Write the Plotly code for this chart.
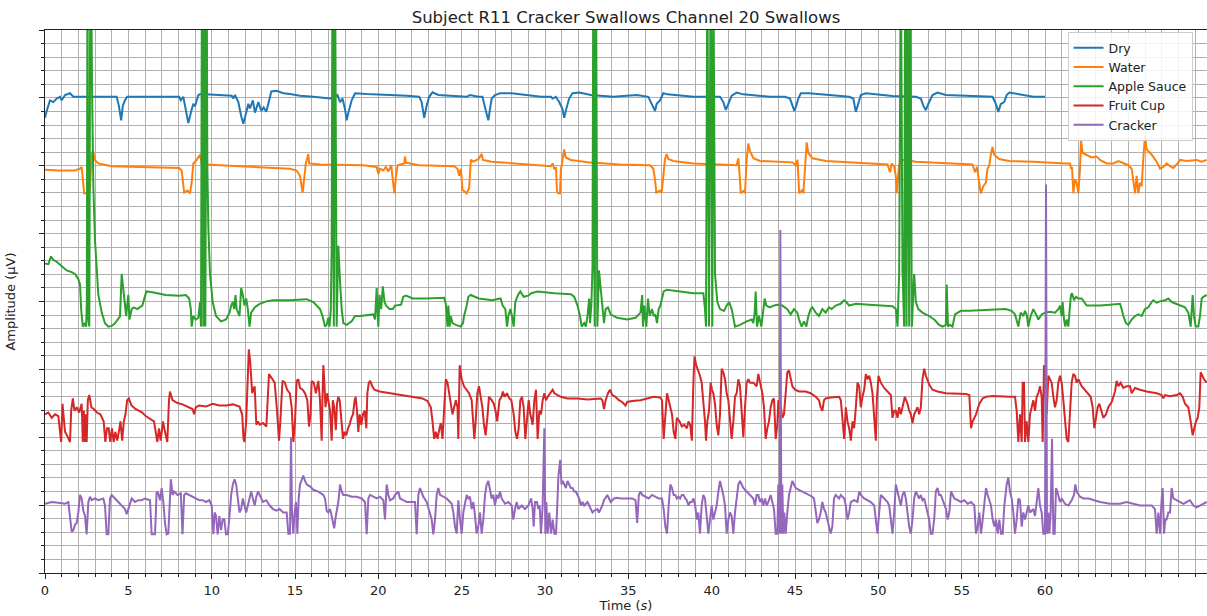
import plotly.graph_objects as go

# Swallow-channel traces (time in s, amplitude with per-condition offset)
dry = [
    (0, 33.53), (0.1, 34.04), (0.3, 34.82), (0.5, 34.69), (0.7, 34.95), (0.9, 35.08), (1.0, 34.82),
    (1.2, 35.21), (1.5, 35.34), (1.7, 35.08), (4.3, 35.08), (4.43, 34.43), (4.57, 33.35), (4.67, 34.43),
    (4.8, 34.82), (4.93, 35.08), (8.05, 35.08), (8.15, 34.82), (8.3, 35.08), (8.45, 34.17), (8.6, 33.14),
    (8.75, 33.91), (8.9, 34.56), (9.0, 34.38), (9.2, 35.21), (9.45, 35.34), (9.65, 35.26), (11.2, 35.16),
    (11.3, 34.95), (11.4, 35.21), (11.6, 34.69), (11.77, 33.66), (11.9, 33.09), (12.07, 33.91), (12.2, 34.56),
    (12.3, 34.22), (12.47, 34.82), (12.6, 33.91), (12.8, 34.69), (12.98, 34.04), (13.12, 34.30), (13.28, 33.97),
    (13.44, 34.69), (13.58, 35.47), (13.9, 35.52), (14.3, 35.34), (14.7, 35.28), (15.3, 35.16), (16.1, 35.08),
    (17.1, 34.95), (17.4, 35.08), (17.55, 35.21), (17.7, 34.69), (17.85, 34.95), (18.0, 34.17), (18.1, 33.35),
    (18.2, 33.91), (18.4, 34.82), (18.6, 35.34), (19.3, 35.28), (21.7, 35.16), (22.45, 35.08), (22.6, 34.69),
    (22.75, 33.53), (22.9, 34.43), (23.05, 35.08), (23.25, 35.41), (23.6, 35.21), (25.3, 35.08), (25.5, 35.21),
    (26.0, 35.08), (26.25, 35.08), (26.4, 34.30), (26.6, 33.35), (26.7, 34.17), (26.8, 34.95), (27.0, 35.21),
    (27.3, 35.34), (28.0, 35.34), (29.0, 35.21), (29.76, 35.08), (30.36, 35.08), (30.45, 34.95), (30.65, 35.08),
    (30.85, 34.69), (31.05, 34.17), (31.15, 33.53), (31.3, 34.30), (31.45, 34.95), (31.65, 35.34), (32.05, 35.39),
    (32.75, 35.21), (34.1, 35.08), (35.5, 35.21), (36.2, 35.08), (36.4, 34.56), (36.6, 34.04), (36.7, 34.56),
    (36.9, 34.82), (37.1, 35.34), (37.35, 35.26), (38.9, 35.08), (40.5, 35.08), (40.7, 34.69), (40.85, 34.12),
    (41.0, 34.56), (41.2, 35.16), (41.5, 35.39), (41.9, 35.26), (43.5, 35.08), (44.4, 35.08), (44.7, 34.95),
    (44.85, 34.48), (44.96, 34.04), (45.08, 34.43), (45.2, 34.95), (45.35, 35.34), (45.85, 35.34), (48.25, 35.08),
    (48.5, 34.95), (48.65, 33.97), (48.8, 34.56), (48.95, 35.21), (49.25, 35.34), (50.85, 35.13), (52.25, 35.08),
    (52.55, 34.95), (52.7, 34.43), (52.85, 34.09), (53.0, 34.56), (53.25, 35.21), (53.55, 35.39), (54.05, 35.21),
    (56.85, 35.08), (57.05, 34.56), (57.2, 33.97), (57.35, 34.56), (57.55, 34.69), (57.7, 35.21), (57.86, 35.39),
    (58.1, 35.34), (58.5, 35.21), (59.3, 35.08), (60.0, 35.08),
]

water = [
    (0, 29.70), (0.8, 29.65), (1.8, 29.65), (2.1, 29.78), (2.2, 29.91), (2.27, 28.75), (2.35, 27.97),
    (2.6, 28.02), (2.7, 28.36), (2.8, 30.81), (2.88, 31.12), (2.98, 30.43), (3.2, 30.17), (4.0, 29.96),
    (5.6, 29.91), (8.05, 29.83), (8.2, 29.65), (8.3, 28.75), (8.35, 28.02), (8.55, 28.18), (8.7, 27.97),
    (8.8, 28.75), (8.9, 30.17), (9.05, 30.35), (9.2, 30.68), (9.3, 30.81), (9.4, 30.17), (9.65, 30.09),
    (11.65, 29.96), (14.7, 29.78), (15.1, 29.65), (15.3, 29.26), (15.46, 28.02), (15.55, 29.00), (15.65, 30.17),
    (15.8, 30.86), (15.85, 30.17), (16.5, 30.09), (19.1, 30.04), (19.9, 29.91), (20.0, 29.39), (20.1, 29.78),
    (20.3, 29.65), (20.45, 29.91), (20.6, 29.57), (20.77, 30.04), (20.87, 28.75), (20.96, 27.97), (21.06, 29.26),
    (21.16, 30.04), (21.56, 30.17), (21.6, 30.68), (21.66, 30.22), (22.45, 30.04), (24.55, 29.96), (24.75, 29.78),
    (24.85, 29.26), (24.95, 29.78), (25.05, 28.23), (25.15, 28.10), (25.3, 27.97), (25.45, 28.36), (25.55, 30.43),
    (25.7, 30.30), (26.0, 30.48), (26.2, 30.86), (26.28, 30.43), (26.8, 30.30), (28.0, 30.17), (29.0, 30.09),
    (30.36, 29.96), (30.45, 30.17), (30.56, 29.78), (30.66, 29.83), (30.72, 28.10), (30.8, 27.97), (30.9, 27.97),
    (30.95, 29.65), (31.05, 30.50), (31.15, 31.20), (31.25, 30.61), (31.55, 30.43), (32.55, 30.25), (34.5, 30.09),
    (36.3, 30.04), (36.5, 29.78), (36.6, 29.00), (36.68, 28.02), (36.9, 28.18), (37.0, 28.02), (37.1, 29.26),
    (37.2, 30.50), (37.3, 30.86), (37.4, 30.50), (37.7, 30.35), (38.9, 30.17), (41.5, 30.04), (41.6, 30.55),
    (41.65, 29.78), (41.7, 28.49), (41.75, 27.97), (41.95, 28.18), (42.0, 27.97), (42.1, 30.43), (42.2, 31.64),
    (42.3, 31.07), (42.5, 30.55), (42.9, 30.35), (44.85, 30.25), (45.05, 30.04), (45.15, 30.43), (45.2, 29.26),
    (45.25, 27.97), (45.45, 28.23), (45.5, 27.97), (45.6, 29.78), (45.65, 30.81), (45.7, 31.72), (45.8, 30.94),
    (46.05, 30.55), (46.85, 30.35), (48.85, 30.22), (50.55, 30.09), (50.7, 29.52), (50.8, 30.17), (50.95, 29.91),
    (51.05, 29.26), (51.1, 27.97), (51.17, 29.26), (51.25, 30.04), (51.35, 30.43), (51.65, 30.43), (52.25, 30.30),
    (54.85, 30.17), (55.65, 30.09), (55.8, 29.52), (55.92, 29.91), (56.05, 28.75), (56.15, 27.97), (56.3, 28.49),
    (56.45, 28.75), (56.55, 29.78), (56.65, 29.99), (56.75, 30.81), (56.85, 31.38), (56.95, 30.81), (57.25, 30.50),
    (57.85, 30.35), (59.3, 30.30), (61.3, 30.17), (61.5, 30.17), (61.56, 29.78), (61.62, 29.91), (61.7, 27.97),
    (61.8, 29.00), (61.9, 28.75), (62.0, 27.97), (62.1, 29.78), (62.16, 31.85), (62.26, 30.94), (62.5, 30.81),
    (62.8, 30.61), (63.1, 30.68), (63.3, 30.43), (63.7, 30.17), (64.1, 30.17), (64.4, 30.35), (64.7, 30.17),
    (65.0, 30.04), (65.2, 29.78), (65.3, 29.00), (65.4, 27.97), (65.5, 29.26), (65.6, 27.97), (65.7, 28.75),
    (65.8, 28.49), (65.9, 30.55), (66.0, 32.23), (66.1, 31.20), (66.4, 30.81), (66.7, 30.30), (66.9, 29.78),
    (67.1, 29.91), (67.3, 30.17), (67.5, 29.96), (67.7, 29.83), (67.9, 30.09), (68.1, 30.43), (68.5, 30.35),
    (69.1, 30.43), (69.4, 30.30), (69.7, 30.43),
]

apple_sauce = [
    (0, 22.80), (0.2, 22.75), (0.36, 23.32), (0.5, 23.06), (0.7, 22.93), (1.0, 22.60), (1.3, 22.29),
    (1.6, 22.16), (1.8, 22.03), (2.0, 21.64), (2.1, 21.25), (2.17, 19.44), (2.27, 18.15), (2.4, 18.41),
    (2.47, 18.15), (2.51, 19.96), (2.55, 46.0), (2.6, 18.67), (2.66, 18.15), (2.72, 46.0), (2.76, 46.0),
    (2.82, 36.0), (2.9, 28.5), (3.0, 24.5), (3.1, 22.0), (3.2, 20.5), (3.4, 19.2), (3.6, 18.4), (3.8, 18.15),
    (4.0, 18.2), (4.2, 18.4), (4.4, 18.8), (4.5, 18.9), (4.6, 22.03), (4.65, 21.51), (4.8, 19.96), (4.87, 18.93),
    (4.93, 19.70), (5.0, 20.48), (5.07, 18.67), (5.2, 19.44), (5.33, 19.57), (5.53, 19.44), (5.84, 19.70),
    (6.0, 20.48), (6.08, 20.74), (6.44, 20.68), (7.24, 20.48), (8.05, 20.43), (8.45, 20.48), (8.65, 20.22),
    (8.75, 19.44), (8.8, 18.15), (8.9, 18.93), (9.05, 18.67), (9.2, 18.80), (9.3, 19.96), (9.36, 18.15),
    (9.42, 46.0), (9.5, 18.15), (9.55, 46.0), (9.62, 18.15), (9.7, 46.0), (9.74, 30.0), (9.8, 25.5),
    (9.9, 22.03), (10.06, 19.96), (10.26, 18.93), (10.56, 18.54), (10.86, 18.67), (11.07, 19.18), (11.17, 19.70),
    (11.27, 19.96), (11.35, 19.44), (11.43, 20.48), (11.5, 19.44), (11.67, 18.93), (11.77, 20.99), (11.87, 20.48),
    (11.97, 19.70), (12.07, 20.22), (12.17, 19.44), (12.27, 18.15), (12.37, 19.18), (12.58, 19.57), (12.88, 19.83),
    (13.28, 20.01), (13.68, 20.09), (14.69, 20.09), (15.7, 20.17), (16.1, 19.96), (16.3, 19.70), (16.5, 19.44),
    (16.65, 18.93), (16.8, 18.15), (16.9, 18.28), (17.0, 18.80), (17.07, 18.15), (17.15, 19.44), (17.2, 23.84),
    (17.25, 46.0), (17.33, 18.15), (17.4, 46.0), (17.5, 18.15), (17.6, 24.10), (17.7, 21.51), (17.8, 19.44),
    (17.9, 18.41), (18.1, 18.28), (18.4, 18.54), (18.6, 18.93), (18.9, 18.93), (19.3, 18.98), (19.7, 19.05),
    (19.8, 18.67), (19.9, 20.99), (19.95, 19.18), (20.0, 18.15), (20.07, 20.48), (20.17, 19.44), (20.27, 21.12),
    (20.37, 19.96), (20.47, 19.70), (20.67, 19.44), (20.87, 19.44), (21.0, 19.70), (21.36, 19.76), (21.5, 20.35),
    (21.66, 20.43), (22.06, 20.22), (22.85, 20.22), (23.95, 20.27), (24.05, 19.83), (24.15, 18.15), (24.2, 19.70),
    (24.28, 18.15), (24.34, 18.93), (24.45, 18.41), (24.65, 18.28), (24.95, 18.15), (25.08, 18.41), (25.14, 18.93),
    (25.28, 19.57), (25.4, 20.35), (25.54, 20.48), (26.03, 20.22), (26.83, 20.09), (27.23, 20.22), (27.33, 20.22),
    (27.46, 19.70), (27.62, 19.44), (27.72, 18.15), (27.8, 18.93), (27.92, 19.44), (28.02, 18.93), (28.12, 18.15),
    (28.22, 19.96), (28.38, 20.48), (28.52, 20.74), (28.72, 20.35), (29.0, 20.43), (29.17, 20.61), (29.56, 20.74),
    (30.56, 20.61), (31.55, 20.53), (31.75, 20.35), (31.95, 19.70), (32.1, 18.93), (32.2, 18.15), (32.35, 18.41),
    (32.45, 18.15), (32.55, 18.93), (32.65, 20.22), (32.7, 18.41), (32.78, 19.70), (32.85, 22.54), (32.9, 46.0),
    (32.98, 18.15), (33.06, 46.0), (33.14, 18.15), (33.24, 22.29), (33.34, 20.99), (33.44, 19.44), (33.54, 18.41),
    (33.64, 19.44), (33.78, 19.57), (33.94, 19.05), (34.33, 18.80), (34.93, 18.67), (35.43, 18.80), (35.73, 19.18),
    (35.83, 20.48), (35.88, 18.15), (35.96, 19.70), (36.08, 18.15), (36.18, 20.22), (36.28, 18.93), (36.42, 19.44),
    (36.52, 18.93), (36.62, 19.05), (36.72, 18.41), (36.82, 19.44), (36.92, 19.70), (37.02, 20.22), (37.12, 20.74),
    (37.32, 20.87), (38.1, 20.74), (38.9, 20.61), (39.5, 20.61), (39.6, 19.44), (39.66, 18.15), (39.74, 46.0),
    (39.84, 18.15), (39.94, 46.0), (40.04, 18.15), (40.1, 46.0), (40.2, 22.03), (40.34, 19.96), (40.5, 19.44),
    (40.74, 19.31), (40.9, 19.70), (41.05, 19.96), (41.2, 19.44), (41.4, 18.15), (41.7, 18.28), (42.1, 18.54),
    (42.4, 18.67), (42.5, 18.41), (42.58, 19.18), (42.64, 20.74), (42.72, 18.15), (42.84, 18.93), (42.98, 18.15),
    (43.08, 19.44), (43.18, 20.22), (43.28, 19.70), (43.48, 19.57), (43.74, 19.70), (43.94, 19.76), (44.24, 19.70),
    (44.54, 19.44), (44.74, 19.05), (44.94, 19.44), (45.14, 19.18), (45.24, 18.67), (45.4, 18.15), (45.54, 18.54),
    (45.68, 18.15), (45.8, 18.93), (45.94, 19.44), (46.04, 19.57), (46.24, 19.18), (46.44, 18.93), (46.64, 19.44),
    (46.84, 19.18), (47.04, 19.57), (47.2, 19.44), (47.44, 19.70), (47.74, 19.83), (47.94, 20.09), (48.08, 19.96),
    (48.25, 19.70), (48.65, 19.83), (49.45, 19.76), (50.05, 19.70), (50.85, 19.65), (51.05, 19.44), (51.15, 18.15),
    (51.25, 22.03), (51.35, 46.0), (51.45, 22.29), (51.55, 18.15), (51.61, 46.0), (51.69, 18.15), (51.75, 46.0),
    (51.85, 18.15), (51.91, 46.0), (52.01, 18.15), (52.15, 22.03), (52.25, 19.96), (52.4, 19.44), (52.65, 19.18),
    (52.85, 19.05), (53.05, 18.93), (53.35, 18.67), (53.65, 18.28), (53.85, 18.15), (54.05, 18.28), (54.1, 21.25),
    (54.18, 18.15), (54.3, 18.28), (54.45, 18.15), (54.6, 19.05), (54.75, 19.18), (54.95, 19.31), (55.45, 19.31),
    (56.45, 19.39), (57.25, 19.44), (57.65, 19.44), (58.0, 19.31), (58.2, 19.05), (58.4, 18.15), (58.54, 19.18),
    (58.7, 18.93), (58.8, 19.31), (58.9, 19.05), (59.0, 18.15), (59.14, 18.93), (59.3, 19.44), (59.46, 19.05),
    (59.6, 18.67), (59.8, 19.05), (60.0, 19.18), (60.3, 19.24), (60.6, 19.18), (60.8, 19.44), (60.9, 19.70),
    (61.0, 18.93), (61.06, 19.96), (61.14, 18.67), (61.22, 18.15), (61.3, 18.67), (61.4, 18.15), (61.5, 19.70),
    (61.56, 20.48), (61.62, 20.61), (61.74, 20.09), (61.86, 20.35), (62.0, 20.22), (62.2, 20.22), (62.5, 19.70),
    (62.8, 19.70), (63.3, 19.70), (63.9, 19.76), (64.5, 19.83), (64.6, 19.44), (64.7, 18.93), (64.86, 18.41),
    (65.0, 18.28), (65.2, 18.67), (65.4, 18.93), (65.6, 19.05), (65.8, 18.93), (66.0, 19.44), (66.2, 19.57),
    (66.4, 19.96), (66.5, 20.09), (66.7, 19.91), (66.9, 20.01), (67.2, 20.09), (67.4, 20.22), (67.6, 19.96),
    (67.9, 19.83), (68.2, 19.70), (68.4, 19.57), (68.6, 19.18), (68.74, 18.15), (68.86, 20.48), (68.94, 18.93),
    (69.04, 18.15), (69.2, 18.15), (69.3, 18.93), (69.4, 20.22), (69.5, 20.35), (69.7, 20.48),
]

fruit_cup = [
    (0, 11.69), (0.2, 11.82), (0.4, 11.43), (0.6, 11.69), (0.8, 11.56), (0.97, 9.65), (1.05, 12.47),
    (1.12, 11.17), (1.2, 10.40), (1.37, 10.01), (1.5, 9.65), (1.57, 11.95), (1.67, 12.86), (1.77, 11.95),
    (1.9, 12.21), (2.05, 11.82), (2.2, 12.47), (2.27, 9.65), (2.33, 11.95), (2.4, 9.65), (2.45, 11.69),
    (2.5, 9.65), (2.57, 12.73), (2.66, 13.11), (2.78, 12.21), (2.92, 12.08), (3.12, 11.82), (3.32, 11.69),
    (3.52, 11.17), (3.62, 9.65), (3.72, 10.66), (3.82, 10.66), (3.92, 9.65), (4.02, 10.66), (4.12, 9.65),
    (4.22, 10.40), (4.33, 9.75), (4.43, 10.40), (4.53, 11.17), (4.63, 9.75), (4.73, 11.17), (4.83, 11.69),
    (4.93, 12.73), (5.03, 12.86), (5.19, 12.34), (5.43, 12.08), (5.63, 11.95), (5.84, 11.82), (6.04, 11.56),
    (6.34, 11.30), (6.54, 11.17), (6.74, 9.65), (6.84, 10.66), (6.94, 9.75), (7.08, 11.17), (7.2, 10.40),
    (7.34, 9.65), (7.44, 12.73), (7.5, 13.37), (7.65, 12.73), (7.95, 12.52), (8.25, 12.42), (8.65, 12.21),
    (8.85, 12.08), (8.95, 11.69), (9.05, 12.21), (9.26, 12.34), (9.66, 12.26), (10.06, 12.47), (10.46, 12.34),
    (10.87, 12.34), (11.27, 12.42), (11.67, 12.26), (11.83, 11.69), (11.91, 9.88), (11.97, 9.65), (12.07, 11.17),
    (12.17, 14.02), (12.23, 16.47), (12.31, 15.57), (12.43, 13.24), (12.58, 13.76), (12.68, 10.92), (12.78, 11.17),
    (12.88, 10.92), (13.08, 11.05), (13.28, 10.79), (13.44, 14.66), (13.52, 14.53), (13.68, 14.27), (13.78, 14.02),
    (13.92, 11.95), (14.04, 9.75), (14.12, 11.17), (14.25, 14.15), (14.39, 14.02), (14.53, 13.50), (14.69, 13.24),
    (14.8, 12.21), (14.9, 9.65), (15.0, 11.17), (15.1, 14.15), (15.2, 14.27), (15.3, 13.63), (15.46, 13.50),
    (15.6, 13.24), (15.74, 12.73), (15.84, 10.79), (15.93, 11.69), (16.0, 14.15), (16.13, 14.02), (16.25, 13.24),
    (16.4, 14.15), (16.5, 12.73), (16.6, 9.75), (16.65, 12.98), (16.7, 15.31), (16.75, 14.27), (16.83, 12.21),
    (16.93, 13.24), (17.0, 12.73), (17.1, 11.95), (17.2, 9.75), (17.27, 12.73), (17.35, 12.21), (17.45, 10.53),
    (17.52, 12.47), (17.6, 12.98), (17.68, 12.73), (17.78, 10.92), (17.88, 9.88), (17.98, 10.40), (18.08, 10.14),
    (18.18, 10.66), (18.28, 10.92), (18.38, 11.43), (18.48, 11.69), (18.58, 12.73), (18.64, 12.98), (18.72, 11.95),
    (18.8, 10.40), (18.88, 11.69), (18.98, 10.92), (19.08, 11.69), (19.18, 11.95), (19.28, 10.66), (19.34, 13.24),
    (19.43, 14.02), (19.51, 14.15), (19.63, 13.76), (19.77, 13.50), (20.07, 13.37), (20.67, 13.24), (21.26, 13.11),
    (22.06, 12.98), (22.65, 12.86), (22.95, 12.67), (23.15, 12.21), (23.25, 11.17), (23.35, 9.88), (23.45, 10.40),
    (23.55, 9.88), (23.65, 10.53), (23.75, 11.05), (23.85, 9.88), (23.95, 12.21), (24.05, 14.27), (24.15, 14.02),
    (24.25, 13.24), (24.35, 12.73), (24.45, 11.69), (24.55, 12.21), (24.65, 12.73), (24.75, 12.21), (24.8, 9.88),
    (24.88, 15.31), (25.0, 14.27), (25.14, 13.76), (25.28, 13.50), (25.44, 13.24), (25.6, 12.73), (25.68, 10.92),
    (25.76, 9.88), (25.84, 11.17), (25.94, 13.24), (26.04, 13.76), (26.14, 12.98), (26.24, 12.21), (26.34, 10.92),
    (26.44, 10.14), (26.54, 11.43), (26.64, 12.98), (26.8, 12.73), (26.93, 12.47), (27.03, 11.95), (27.13, 11.17),
    (27.27, 12.73), (27.39, 12.98), (27.47, 13.37), (27.58, 12.98), (27.72, 13.24), (27.86, 12.86), (27.98, 12.73),
    (28.12, 11.69), (28.22, 10.40), (28.32, 9.88), (28.42, 10.66), (28.52, 12.73), (28.62, 12.98), (28.72, 12.21),
    (28.82, 9.88), (28.92, 11.69), (29.02, 12.73), (29.12, 11.69), (29.26, 10.92), (29.36, 12.73), (29.46, 13.50),
    (29.56, 9.88), (29.66, 11.95), (29.76, 11.69), (29.86, 12.73), (29.96, 13.24), (30.06, 12.73), (30.16, 12.98),
    (30.32, 13.24), (30.46, 13.50), (30.56, 13.24), (30.76, 13.11), (30.95, 12.98), (31.35, 12.86), (31.95, 12.86),
    (32.55, 12.78), (33.34, 12.86), (33.44, 12.73), (33.54, 12.08), (33.64, 12.73), (33.78, 13.24), (33.9, 13.50),
    (34.04, 13.11), (34.23, 12.98), (34.43, 12.73), (34.63, 12.60), (34.83, 12.34), (34.93, 12.60), (35.23, 12.67),
    (35.73, 12.73), (36.12, 12.86), (36.52, 12.98), (36.92, 12.93), (37.02, 12.73), (37.12, 9.88), (37.22, 11.69),
    (37.32, 13.24), (37.42, 12.73), (37.52, 12.21), (37.62, 11.69), (37.72, 10.40), (37.82, 9.88), (37.91, 11.43),
    (38.07, 11.17), (38.21, 10.79), (38.35, 10.92), (38.51, 10.66), (38.61, 11.17), (38.71, 10.92), (38.81, 9.75),
    (38.91, 14.27), (38.97, 15.96), (39.07, 15.31), (39.2, 14.92), (39.3, 14.53), (39.4, 14.02), (39.5, 12.73),
    (39.6, 11.17), (39.66, 9.75), (39.74, 11.17), (39.84, 11.95), (39.94, 14.02), (40.02, 13.50), (40.1, 13.24),
    (40.2, 12.47), (40.3, 10.92), (40.4, 10.14), (40.5, 11.69), (40.6, 15.05), (40.7, 14.79), (40.8, 14.27),
    (40.9, 13.24), (41.0, 12.73), (41.1, 11.17), (41.2, 9.88), (41.3, 11.17), (41.4, 12.98), (41.5, 13.24),
    (41.6, 14.27), (41.7, 13.76), (41.8, 11.69), (41.9, 10.01), (42.0, 12.21), (42.1, 14.02), (42.2, 14.27),
    (42.3, 14.02), (42.5, 14.02), (42.7, 13.76), (42.8, 14.66), (42.9, 14.15), (43.04, 13.24), (43.14, 12.21),
    (43.24, 9.88), (43.34, 10.66), (43.44, 11.17), (43.54, 12.21), (43.64, 12.73), (43.74, 12.86), (43.84, 9.88),
    (43.94, 10.92), (44.0, 12.73), (44.08, 11.43), (44.16, 12.21), (44.24, 11.43), (44.34, 11.69), (44.44, 13.24),
    (44.54, 14.79), (44.64, 14.92), (44.74, 14.27), (44.84, 13.76), (45.0, 13.50), (45.24, 13.37), (45.64, 13.37),
    (45.94, 13.24), (46.24, 12.98), (46.44, 12.73), (46.54, 12.21), (46.64, 11.95), (46.74, 12.73), (46.84, 12.86),
    (47.14, 12.93), (47.65, 12.98), (47.75, 12.73), (47.85, 11.43), (47.95, 9.88), (48.05, 12.21), (48.15, 11.17),
    (48.25, 10.66), (48.35, 9.75), (48.45, 11.17), (48.55, 10.66), (48.65, 12.21), (48.75, 14.02), (48.85, 13.76),
    (48.95, 12.21), (49.05, 12.98), (49.15, 13.50), (49.25, 14.66), (49.35, 14.27), (49.45, 14.53), (49.55, 14.02),
    (49.65, 13.24), (49.75, 11.69), (49.85, 9.75), (49.91, 12.73), (50.01, 14.53), (50.15, 14.02), (50.35, 13.63),
    (50.55, 13.37), (50.75, 13.11), (50.85, 11.43), (50.95, 11.95), (51.05, 11.95), (51.15, 11.43), (51.25, 12.21),
    (51.35, 11.69), (51.45, 12.21), (51.59, 12.98), (51.75, 12.47), (51.85, 11.95), (51.95, 11.69), (52.05, 11.05),
    (52.15, 11.69), (52.25, 11.95), (52.35, 12.21), (52.45, 11.69), (52.55, 12.21), (52.65, 14.27), (52.75, 15.05),
    (52.85, 14.53), (53.05, 13.89), (53.25, 13.50), (53.55, 13.37), (54.06, 13.24), (54.86, 13.24), (55.26, 13.19),
    (55.46, 13.11), (55.56, 10.66), (55.66, 11.17), (55.86, 11.69), (56.06, 12.47), (56.26, 12.86), (56.46, 12.98),
    (56.86, 13.03), (57.87, 12.98), (58.2, 12.98), (58.3, 11.95), (58.4, 9.65), (58.5, 11.69), (58.6, 9.65),
    (58.66, 14.02), (58.74, 14.02), (58.8, 9.65), (58.9, 11.17), (59.0, 9.65), (59.1, 11.69), (59.2, 12.21),
    (59.3, 12.73), (59.4, 11.95), (59.5, 12.98), (59.6, 13.24), (59.7, 13.76), (59.8, 12.98), (59.86, 9.65),
    (59.94, 15.31), (60.02, 13.24), (60.1, 11.69), (60.2, 14.53), (60.3, 14.27), (60.4, 14.02), (60.5, 12.98),
    (60.6, 12.21), (60.7, 12.73), (60.8, 14.02), (60.9, 14.53), (61.0, 14.02), (61.1, 12.73), (61.2, 11.17),
    (61.3, 9.88), (61.4, 9.65), (61.5, 11.69), (61.6, 14.02), (61.7, 14.66), (61.8, 14.53), (61.9, 14.02),
    (62.0, 14.27), (62.2, 13.76), (62.4, 13.50), (62.6, 13.24), (62.74, 12.98), (62.86, 12.21), (62.96, 10.66),
    (63.06, 11.43), (63.16, 12.21), (63.26, 12.47), (63.4, 11.95), (63.5, 11.43), (63.66, 11.69), (63.8, 12.21),
    (64.0, 12.60), (64.2, 13.37), (64.3, 14.15), (64.4, 13.76), (64.54, 14.02), (64.7, 13.63), (64.9, 13.76),
    (65.1, 13.76), (65.2, 13.24), (65.4, 13.63), (65.7, 13.50), (66.1, 13.37), (66.7, 13.24), (67.0, 13.11),
    (67.1, 12.86), (67.2, 13.11), (67.5, 13.03), (67.9, 13.11), (68.1, 13.24), (68.26, 12.98), (68.4, 12.47),
    (68.6, 12.21), (68.74, 11.17), (68.86, 10.14), (68.96, 10.66), (69.06, 11.17), (69.16, 11.43), (69.26, 12.21),
    (69.34, 14.79), (69.44, 14.53), (69.54, 14.27), (69.7, 14.02),
]

cracker = [
    (0, 5.10), (0.4, 5.23), (0.8, 5.18), (1.2, 5.10), (1.4, 5.23), (1.5, 3.94), (1.6, 3.04), (1.7, 3.16),
    (1.8, 3.55), (1.9, 3.68), (2.0, 4.46), (2.1, 5.75), (2.2, 5.49), (2.3, 4.59), (2.4, 4.20), (2.5, 2.85),
    (2.6, 5.23), (2.7, 5.62), (2.8, 5.36), (3.0, 5.49), (3.2, 5.36), (3.5, 5.49), (3.6, 4.97), (3.7, 2.85),
    (3.8, 2.85), (3.9, 5.49), (4.0, 5.75), (4.2, 5.49), (4.4, 5.23), (4.6, 4.97), (4.8, 4.71), (4.9, 4.33),
    (5.0, 4.71), (5.1, 5.23), (5.2, 5.49), (5.4, 5.23), (5.6, 5.36), (5.8, 5.36), (6.0, 5.49), (6.3, 5.36),
    (6.4, 2.85), (6.6, 2.85), (6.7, 6.00), (6.8, 5.87), (6.9, 5.36), (7.0, 6.26), (7.1, 5.23), (7.2, 3.68),
    (7.3, 2.85), (7.4, 2.90), (7.5, 6.26), (7.55, 6.91), (7.65, 5.75), (7.75, 6.00), (7.95, 5.75), (8.15, 5.87),
    (8.25, 2.85), (8.35, 5.75), (8.45, 5.87), (8.65, 5.75), (8.85, 5.62), (9.05, 5.49), (9.26, 5.36), (9.46, 5.36),
    (9.66, 5.23), (9.86, 5.36), (10.0, 4.97), (10.1, 2.85), (10.18, 4.46), (10.26, 4.20), (10.36, 2.85),
    (10.46, 4.20), (10.56, 3.16), (10.66, 3.94), (10.76, 3.94), (10.86, 2.85), (10.97, 2.85), (11.07, 4.20),
    (11.17, 5.75), (11.27, 6.52), (11.37, 6.91), (11.47, 6.52), (11.57, 5.49), (11.67, 4.46), (11.77, 4.71),
    (11.87, 5.49), (11.97, 4.97), (12.07, 4.46), (12.17, 4.97), (12.27, 5.49), (12.37, 6.00), (12.47, 5.49),
    (12.58, 4.97), (12.68, 5.62), (12.78, 6.00), (12.88, 5.75), (12.98, 5.49), (13.08, 5.23), (13.28, 5.36),
    (13.48, 4.97), (13.68, 4.71), (13.88, 4.59), (14.08, 4.71), (14.29, 4.46), (14.5, 4.46), (14.6, 2.90),
    (14.7, 2.90), (14.76, 10.01), (14.82, 4.46), (14.9, 2.90), (14.98, 4.46), (15.06, 5.23), (15.14, 2.90),
    (15.22, 5.49), (15.3, 6.52), (15.4, 6.91), (15.5, 7.17), (15.6, 6.78), (15.7, 6.52), (15.9, 6.39),
    (16.1, 6.13), (16.4, 6.00), (16.7, 5.75), (16.8, 5.49), (16.9, 4.59), (17.0, 4.46), (17.1, 4.71), (17.2, 4.20),
    (17.3, 3.42), (17.35, 3.29), (17.45, 4.20), (17.6, 5.23), (17.7, 6.52), (17.8, 6.00), (17.9, 5.75),
    (18.1, 5.75), (18.4, 5.62), (18.7, 5.62), (19.0, 5.49), (19.2, 5.23), (19.3, 2.85), (19.4, 5.49), (19.5, 5.75),
    (19.7, 5.62), (19.9, 5.49), (20.1, 5.62), (20.3, 5.36), (20.4, 3.94), (20.5, 6.52), (20.6, 5.75), (20.7, 5.36),
    (20.9, 5.49), (21.0, 5.75), (21.2, 6.00), (21.3, 5.49), (21.5, 5.36), (21.7, 5.23), (22.0, 5.23), (22.2, 5.23),
    (22.3, 2.85), (22.4, 5.75), (22.5, 6.26), (22.6, 6.00), (22.7, 5.62), (22.9, 5.23), (23.1, 4.46), (23.2, 3.94),
    (23.3, 2.85), (23.4, 3.94), (23.5, 5.75), (23.6, 6.26), (23.7, 5.75), (23.9, 5.62), (24.1, 5.49), (24.2, 5.36),
    (24.4, 5.10), (24.5, 4.46), (24.6, 3.42), (24.7, 2.90), (24.8, 5.36), (24.9, 3.94), (25.0, 2.90), (25.1, 4.46),
    (25.2, 5.23), (25.3, 5.75), (25.4, 5.49), (25.5, 5.62), (25.6, 4.71), (25.7, 5.23), (25.8, 4.20), (25.9, 2.90),
    (26.0, 3.42), (26.1, 4.46), (26.2, 2.90), (26.3, 3.94), (26.4, 5.75), (26.5, 6.52), (26.6, 6.78), (26.7, 6.00),
    (26.8, 5.49), (26.9, 5.75), (27.0, 4.97), (27.1, 5.75), (27.2, 5.49), (27.3, 6.00), (27.4, 5.49), (27.6, 5.10),
    (27.8, 5.23), (28.0, 4.97), (28.1, 3.94), (28.2, 4.71), (28.3, 5.23), (28.4, 4.71), (28.6, 4.97), (28.8, 4.71),
    (29.0, 4.97), (29.17, 5.49), (29.26, 4.71), (29.32, 3.42), (29.4, 5.23), (29.52, 5.23), (29.6, 4.71),
    (29.68, 4.97), (29.76, 2.90), (29.86, 4.97), (29.96, 10.66), (30.02, 2.90), (30.08, 5.23), (30.16, 2.90),
    (30.26, 4.46), (30.36, 2.90), (30.46, 3.94), (30.56, 2.90), (30.66, 2.90), (30.72, 4.46), (30.8, 7.04),
    (30.91, 8.33), (30.99, 6.52), (31.07, 6.78), (31.15, 6.52), (31.25, 6.26), (31.35, 6.78), (31.45, 6.52),
    (31.55, 6.26), (31.65, 6.26), (31.75, 6.00), (31.85, 6.00), (32.05, 5.49), (32.15, 4.97), (32.25, 5.23),
    (32.35, 4.97), (32.55, 5.23), (32.65, 4.97), (32.75, 4.71), (32.85, 4.46), (32.95, 4.59), (33.14, 4.71),
    (33.24, 4.46), (33.34, 4.71), (33.44, 4.97), (33.54, 5.36), (33.64, 5.62), (33.74, 5.75), (33.84, 5.49),
    (33.94, 5.23), (34.14, 5.49), (34.33, 5.54), (34.53, 5.49), (34.73, 5.49), (34.93, 5.54), (35.23, 5.49),
    (35.43, 5.36), (35.53, 3.68), (35.63, 5.75), (35.73, 6.00), (35.83, 5.75), (36.02, 5.62), (36.22, 5.49),
    (36.42, 5.75), (36.62, 5.62), (36.82, 5.49), (37.02, 5.49), (37.12, 4.71), (37.22, 3.42), (37.32, 2.90),
    (37.42, 4.97), (37.52, 6.52), (37.62, 6.26), (37.72, 5.75), (37.82, 5.75), (37.91, 5.49), (38.01, 5.62),
    (38.11, 5.49), (38.21, 5.75), (38.31, 5.75), (38.41, 5.49), (38.51, 5.36), (38.61, 4.97), (38.71, 5.23),
    (38.81, 5.23), (38.91, 5.49), (39.01, 4.97), (39.11, 3.94), (39.2, 4.46), (39.3, 2.90), (39.4, 4.97),
    (39.5, 5.75), (39.6, 5.49), (39.7, 3.94), (39.8, 2.90), (39.9, 3.94), (40.0, 4.97), (40.1, 3.94), (40.2, 4.46),
    (40.3, 4.97), (40.4, 6.00), (40.5, 6.78), (40.6, 6.26), (40.7, 5.75), (40.8, 4.97), (40.9, 2.90), (41.0, 3.94),
    (41.1, 4.46), (41.2, 4.20), (41.3, 2.90), (41.4, 4.46), (41.5, 5.75), (41.6, 6.52), (41.7, 6.78), (41.8, 6.52),
    (41.9, 6.26), (42.1, 6.00), (42.3, 5.75), (42.5, 5.49), (42.6, 4.97), (42.7, 5.75), (42.8, 5.75), (42.9, 5.23),
    (43.0, 5.49), (43.1, 4.97), (43.2, 5.49), (43.3, 4.97), (43.4, 5.23), (43.54, 5.75), (43.64, 5.23),
    (43.74, 4.71), (43.84, 2.90), (43.94, 2.90), (44.0, 6.52), (44.08, 2.90), (44.12, 25.26), (44.18, 2.90),
    (44.24, 6.52), (44.3, 2.90), (44.36, 4.46), (44.44, 2.90), (44.54, 4.46), (44.64, 5.75), (44.74, 6.26),
    (44.84, 6.78), (44.94, 6.52), (45.04, 6.26), (45.24, 6.13), (45.44, 6.00), (45.64, 5.87), (45.84, 5.75),
    (46.04, 5.62), (46.14, 5.49), (46.24, 4.46), (46.34, 3.68), (46.44, 3.94), (46.54, 4.46), (46.64, 5.23),
    (46.74, 4.71), (46.84, 4.46), (46.94, 3.94), (47.04, 3.42), (47.14, 2.90), (47.24, 3.42), (47.34, 5.49),
    (47.44, 5.75), (47.65, 5.49), (47.75, 5.75), (47.95, 5.49), (48.05, 4.97), (48.15, 3.94), (48.25, 4.46),
    (48.35, 5.23), (48.55, 5.36), (48.75, 5.23), (48.85, 6.00), (48.95, 5.75), (49.15, 5.49), (49.35, 5.36),
    (49.55, 5.23), (49.75, 4.97), (49.85, 3.94), (49.95, 2.90), (50.05, 4.46), (50.15, 5.75), (50.35, 5.49),
    (50.55, 5.23), (50.65, 4.97), (50.75, 3.94), (50.85, 2.90), (50.95, 4.46), (51.05, 6.52), (51.15, 6.00),
    (51.25, 5.49), (51.35, 4.97), (51.45, 5.75), (51.55, 6.00), (51.65, 5.49), (51.75, 4.46), (51.85, 3.42),
    (51.95, 2.90), (52.05, 3.94), (52.15, 5.49), (52.25, 6.00), (52.35, 5.75), (52.45, 5.49), (52.55, 5.75),
    (52.65, 5.36), (52.75, 5.49), (52.85, 4.97), (52.95, 4.46), (53.05, 3.94), (53.15, 2.90), (53.25, 2.90),
    (53.35, 3.94), (53.45, 6.00), (53.55, 6.26), (53.65, 5.75), (53.75, 5.75), (53.85, 5.36), (53.95, 5.10),
    (54.06, 4.71), (54.16, 3.94), (54.26, 4.46), (54.36, 6.00), (54.46, 5.75), (54.56, 5.49), (54.76, 5.36),
    (54.96, 5.23), (55.16, 5.36), (55.36, 5.10), (55.56, 5.23), (55.76, 4.97), (55.86, 2.90), (55.96, 3.42),
    (56.06, 4.46), (56.16, 2.90), (56.26, 3.94), (56.36, 4.97), (56.46, 6.26), (56.56, 5.75), (56.66, 5.36),
    (56.76, 4.97), (56.86, 3.94), (56.96, 3.42), (57.06, 3.94), (57.16, 2.90), (57.26, 3.94), (57.36, 2.90),
    (57.46, 2.90), (57.56, 4.97), (57.7, 6.52), (57.8, 7.04), (57.9, 6.00), (58.0, 5.49), (58.1, 4.46),
    (58.2, 2.90), (58.3, 3.94), (58.4, 5.49), (58.5, 5.36), (58.6, 3.42), (58.7, 4.46), (58.8, 3.94), (58.9, 4.46),
    (59.0, 4.97), (59.1, 4.46), (59.2, 4.59), (59.3, 4.71), (59.4, 4.20), (59.5, 5.23), (59.6, 6.26), (59.7, 4.97),
    (59.8, 4.46), (59.9, 2.90), (60.0, 2.90), (60.06, 28.62), (60.12, 2.90), (60.2, 4.46), (60.26, 2.90),
    (60.34, 4.46), (60.42, 9.88), (60.5, 2.90), (60.58, 2.90), (60.66, 6.26), (60.74, 6.00), (60.9, 5.23),
    (61.0, 5.49), (61.2, 5.10), (61.4, 4.97), (61.6, 5.36), (61.74, 5.75), (61.82, 6.52), (61.9, 6.00),
    (62.1, 5.62), (62.3, 5.49), (62.6, 5.49), (62.9, 5.36), (63.3, 5.23), (63.9, 5.10), (64.5, 5.10), (64.9, 5.23),
    (65.3, 5.10), (65.7, 4.97), (66.1, 4.97), (66.4, 4.97), (66.6, 4.71), (66.7, 2.90), (66.8, 4.46), (66.9, 2.90),
    (67.0, 5.49), (67.06, 6.26), (67.14, 2.90), (67.22, 3.94), (67.3, 3.94), (67.4, 4.46), (67.5, 4.46),
    (67.6, 6.26), (67.7, 5.49), (67.9, 5.36), (68.1, 5.23), (68.3, 5.10), (68.5, 5.23), (68.7, 5.36), (68.9, 4.97),
    (69.1, 4.84), (69.3, 4.97), (69.5, 5.10), (69.7, 5.23),
]

series_names = ["Dry", "Water", "Apple Sauce", "Fruit Cup", "Cracker"]
series_data = [dry, water, apple_sauce, fruit_cup, cracker]
series_colors = ["#1f77b4", "#ff7f0e", "#2ca02c", "#d62728", "#9467bd"]

x_tick_labels = list(range(0, 61, 5))

FONT = "DejaVu Sans, Verdana, sans-serif"
GRID = "#b0b0b0"

fig = go.Figure()
for name, pts, color in zip(series_names, series_data, series_colors):
    t_vals = [p[0] for p in pts]
    a_vals = [p[1] for p in pts]
    fig.add_trace(go.Scatter(
        x=t_vals, y=a_vals, mode="lines", name=name,
        line=dict(color=color, width=2),
    ))

fig.update_layout(
    width=1207, height=616,
    margin=dict(l=45, r=0, t=30, b=43),
    paper_bgcolor="white", plot_bgcolor="white",
    font=dict(family=FONT, size=13, color="#222222"),
    title=dict(
        text="Subject R11 Cracker Swallows Channel 20 Swallows",
        x=0.5, xref="paper", xanchor="center",
        y=1 - 17 / 616, yref="container", yanchor="middle",
        font=dict(family=FONT, size=16.5, color="#222222"),
    ),
    showlegend=True,
    legend=dict(
        x=0.88, y=0.996, xanchor="left", yanchor="top",
        bgcolor="rgba(255,255,255,0.85)", bordercolor="#cccccc", borderwidth=1,
        font=dict(family=FONT, size=12.5, color="#222222"),
        tracegroupgap=0, itemwidth=30,
    ),
)

fig.update_xaxes(
    range=[0, 69.72], autorange=False,
    tickmode="array", tickvals=x_tick_labels, ticktext=[str(v) for v in x_tick_labels],
    ticks="outside", ticklen=5, tickwidth=1, tickcolor="#222222",
    showgrid=True, gridcolor=GRID, gridwidth=1,
    minor=dict(tickmode="linear", tick0=0, dtick=1, ticks="outside", ticklen=3,
               tickcolor="#222222", showgrid=True, gridcolor=GRID, gridwidth=1),
    showline=True, linecolor="#222222", linewidth=1, mirror=True,
    zeroline=False, automargin=False,
    title=dict(text="Time (<i>s</i>)", standoff=4, font=dict(family=FONT, size=13)),
    tickfont=dict(family=FONT, size=13, color="#222222"),
)

fig.update_yaxes(
    range=[0, 40], autorange=False,
    tickmode="linear", tick0=0, dtick=5, showticklabels=False,
    ticks="outside", ticklen=5, tickwidth=1, tickcolor="#222222",
    showgrid=True, gridcolor=GRID, gridwidth=1,
    minor=dict(tickmode="linear", tick0=0, dtick=1, ticks="outside", ticklen=3,
               tickcolor="#222222", showgrid=True, gridcolor=GRID, gridwidth=1),
    showline=True, linecolor="#222222", linewidth=1, mirror=False,
    zeroline=False, automargin=False,
    title=dict(text="Amplitude (µV)", standoff=20, font=dict(family=FONT, size=13)),
)

fig.write_html("out.html")
